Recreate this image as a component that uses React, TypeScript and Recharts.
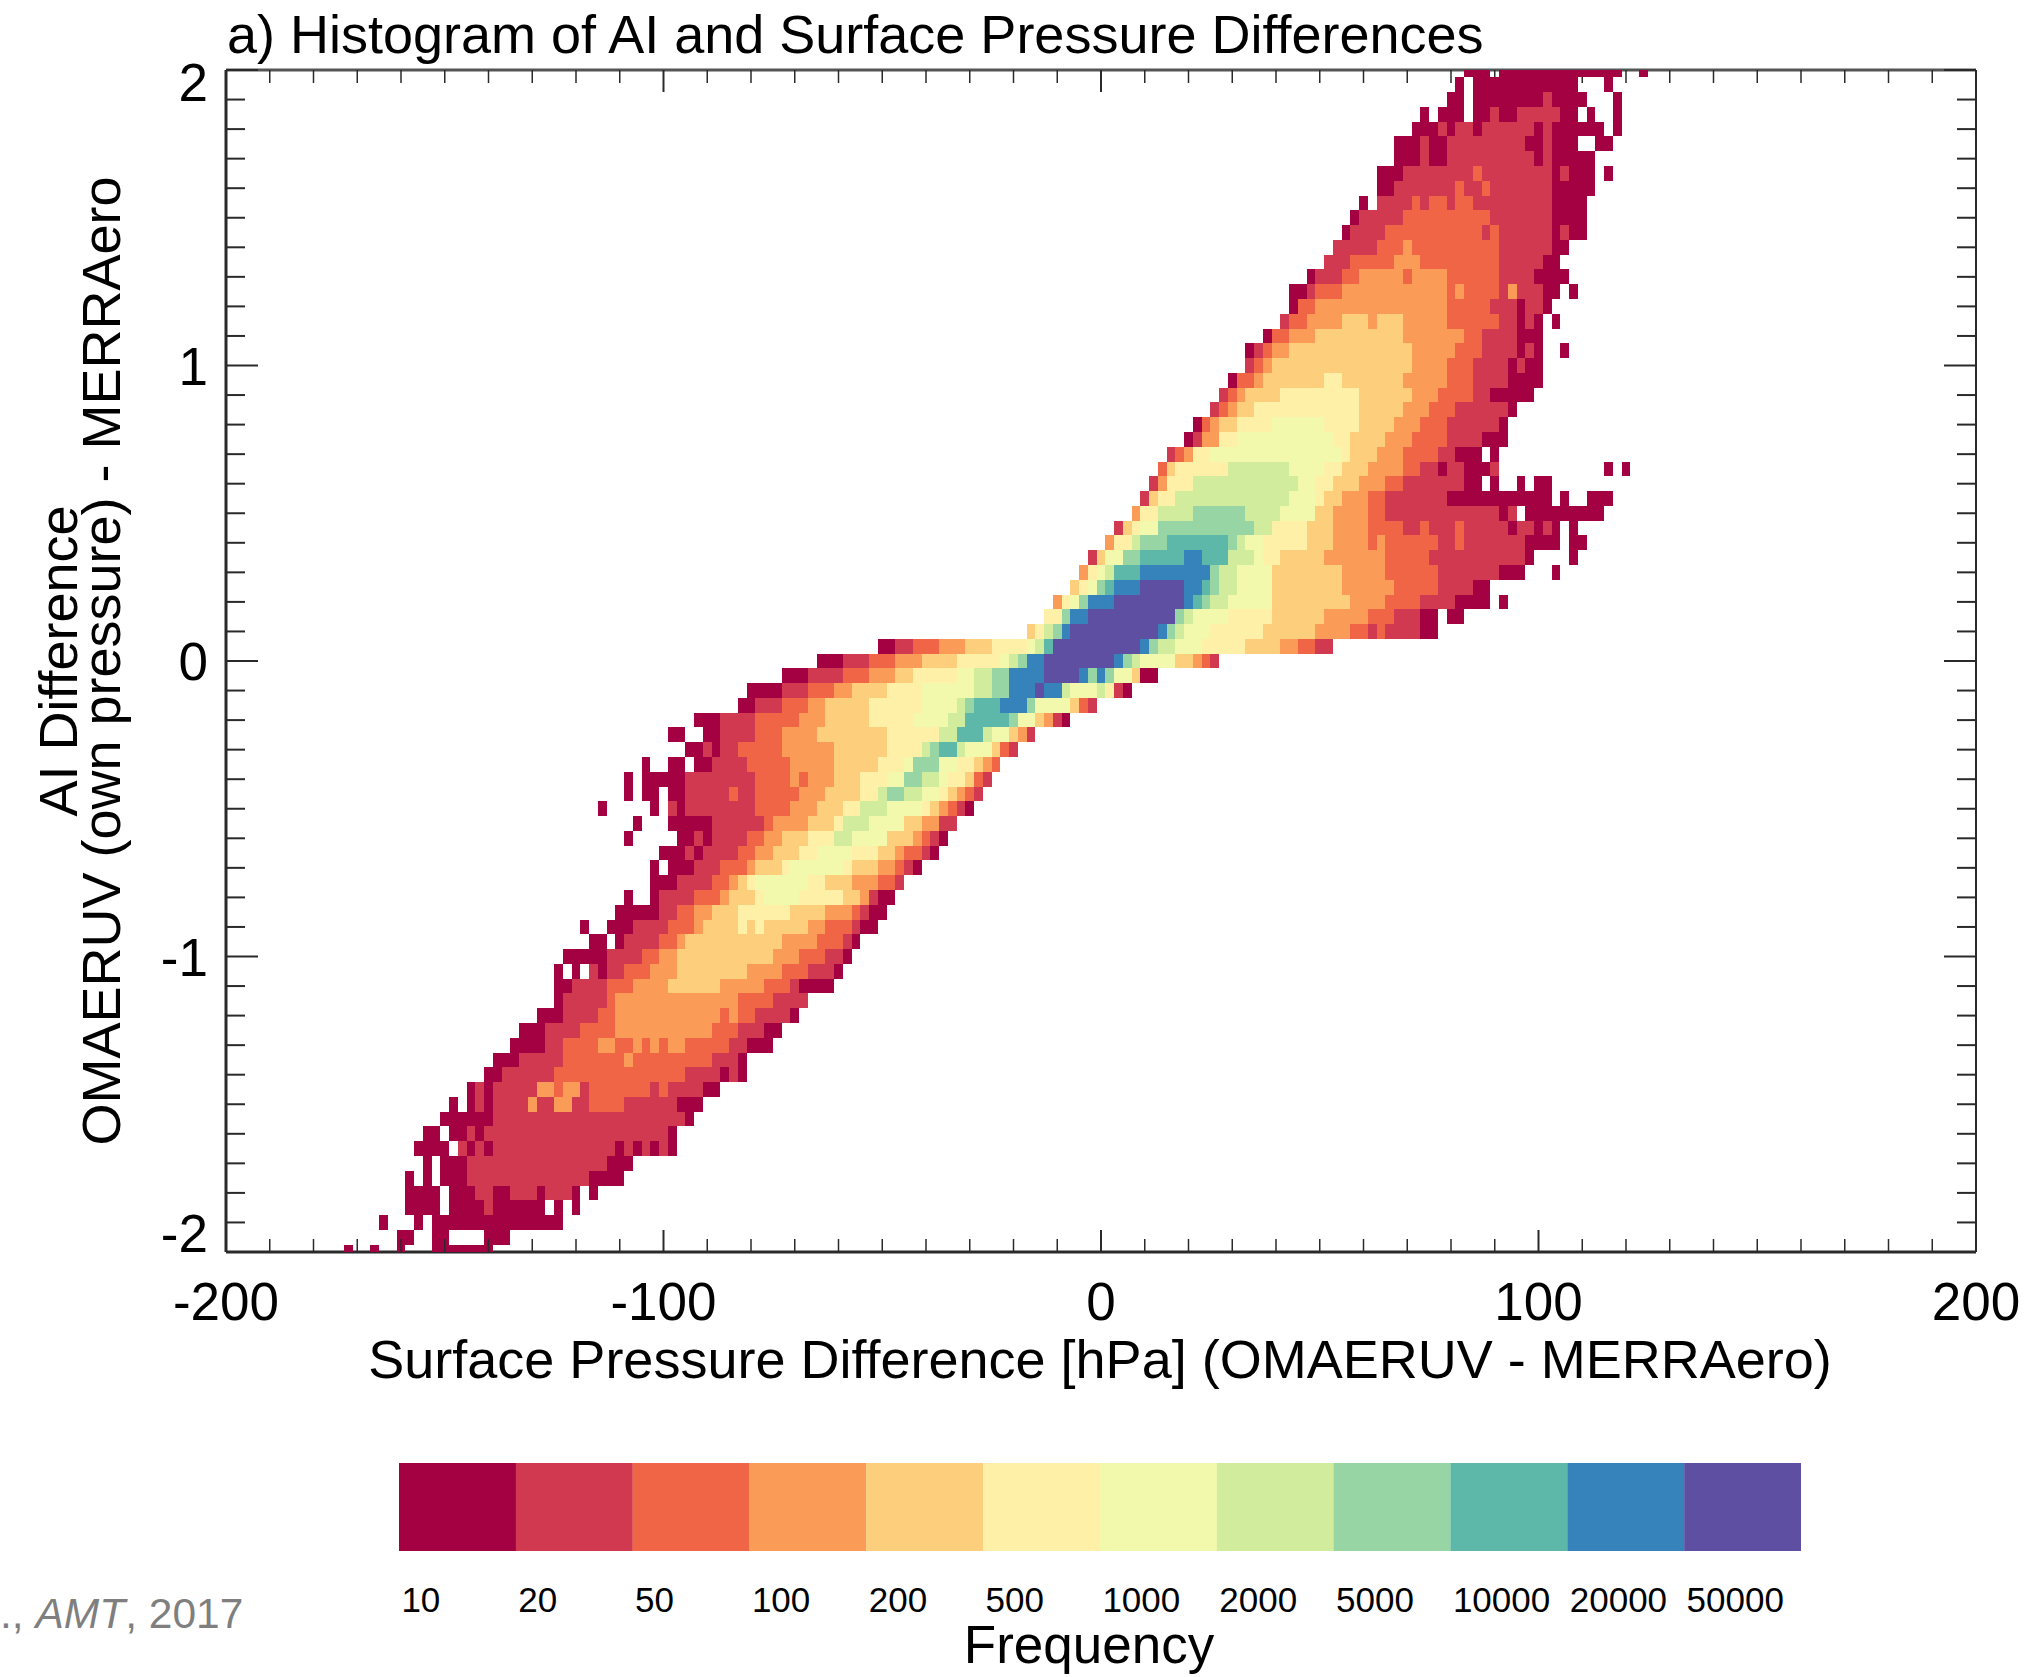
import React from "react";
import {
  Bar,
  BarChart,
  Cell,
  Scatter,
  ScatterChart,
  XAxis,
  YAxis,
} from "recharts";

const levelLabels = ["10", "20", "50", "100", "200", "500", "1000", "2000", "5000", "10000", "20000", "50000"];
const levelColors = [
  "#A30142", "#D0394F", "#EF6545", "#FA9C58", "#FDCE7C", "#FEF0A6",
  "#F2F9AC", "#D1EC9C", "#98D5A4", "#5DB8A9", "#3682BA", "#5E4FA2",
];

// one string per AI bin, from +2.0 down to -2.0 in steps of 0.05
// each run is "firstColumn-lastColumn:level", column n is the pressure bin -200 + 2n hPa
const rowRuns = [
  "142-144:0 146-159:0 162:0",
  "141:0 143-154:0 158:0",
  "140-141:0 143-150:0 151:1 152-155:0 159:0",
  "137:0 139-141:0 143-144:0 145:1 146-147:0 148-152:1 153-154:0 156:0 159:0",
  "136-138:0 139:1 140:0 141-142:1 143:0 144-149:1 150:0 151:1 152-157:0 159:0",
  "134-136:0 137:1 138-139:0 140-148:1 149-150:0 151:1 152-154:0 157-158:0",
  "134-136:0 137:1 138-139:0 140-149:1 150:0 151:1 152-156:0",
  "132-134:0 135-142:1 143:2 144-151:1 152:0 153:1 154-156:0 158:0",
  "132-133:0 134-140:1 141:2 142-143:1 144:2 145-151:1 152-156:0",
  "130:0 132-135:1 136:2 137:1 138-139:2 140:1 141-142:2 143-151:1 152-155:0",
  "129:0 130-134:1 135-144:2 145-151:1 152-155:0",
  "128:0 129-132:1 133-143:2 144:1 145:2 146-151:1 152:0 153:1 154-155:0",
  "127-131:1 132-134:2 135:3 136-145:2 146-151:1 152-153:0",
  "126-128:1 129-133:2 134-136:3 137-145:2 146-150:1 151-152:0",
  "124:0 125-127:1 128-129:2 130-134:3 135:2 136-139:3 140-145:2 146-149:1 150-153:0",
  "122-123:0 124:1 125-127:2 128-139:3 140:2 141:3 142-145:2 146:1 147:3 148-150:1 151-152:0 154:0",
  "122:0 123-124:2 125-139:3 140-144:2 145-147:1 148:0 149-150:1 151:0",
  "121:1 122-123:2 124-127:3 128-130:4 131:3 132-134:4 135-139:3 140-145:2 146-147:1 148:0 149:1 150:0 152:0",
  "119:0 120-121:2 122-124:3 125-134:4 135-141:3 142-143:2 144-147:1 148-150:0",
  "117:0 118:1 119:2 120-121:3 122-135:4 136-140:3 141-143:2 144-147:1 148:0 149:1 150:0 153:0",
  "117:1 118:2 119:3 120-135:4 136-139:3 140-142:2 143-146:1 147:0 148:1 149-150:0",
  "115:0 116-117:2 118:3 119-125:4 126-127:5 128-134:4 135-139:3 140-142:2 143-146:1 147-150:0",
  "114:1 115:2 116:3 117-120:4 121-129:5 130-135:4 136-138:3 139-142:2 143-144:1 145-149:0",
  "113:1 114:2 115:3 116-117:4 118-129:5 130-134:4 135-137:3 138-140:2 141-146:1 147:0",
  "111:0 112:2 113:3 114-115:4 116-119:5 120-125:6 126-129:5 130-133:4 134-136:3 137-139:2 140-145:1 146:0",
  "110:0 111:1 112-113:3 114-115:5 116-126:6 127-128:5 129-132:4 133-135:3 136-139:2 140-143:1 144-146:0",
  "108:1 109:2 110:3 111-112:5 113-127:6 128:5 129-131:4 132-134:3 135-138:2 139-140:1 141-143:0 145:0",
  "107:2 108:4 109-114:5 115-121:7 122-125:6 126-127:5 128-130:4 131-134:3 135-136:2 137-138:1 139:0 140-141:1 142-144:0 145:1 158:0 160:0",
  "106:1 107:3 108-110:5 111-122:7 123-124:6 125-126:5 127-129:4 130-132:3 133-134:2 135-141:1 142-143:0 145:0 148:0 150-151:0",
  "105:1 106:4 107-108:5 109-121:7 122-124:6 125:5 126-127:4 128-130:3 131-132:2 133-139:1 140-151:0 153:0 156-158:0",
  "104:3 105-106:5 107-110:7 111-116:8 117-120:7 121-124:6 125-126:4 127-130:3 131-132:2 133-145:1 146:0 147:1 149-157:0",
  "102:1 103:4 104:5 105-106:6 107-117:8 118-119:7 120-123:5 124-126:4 127-130:3 131-134:2 135-136:1 137:2 138-140:1 141:2 142-146:1 147:0 148-149:1 150:0 151:1 152:0 154:0",
  "101:3 102-103:5 104:7 105-107:8 108-114:9 115:8 116:7 117-118:6 119-123:5 124-126:4 127-130:3 131:2 132:3 133-138:2 139-140:1 141:2 142-148:1 149-152:0 154-155:0",
  "99:1 100:4 101-102:6 103-104:8 105-109:9 110-111:10 112-114:9 115-117:7 118:6 119-120:5 121-125:4 126-132:3 133-137:2 138-148:1 149:0 154:0",
  "98:3 99:5 100:6 101:7 102-104:9 105-112:10 113:8 114-115:7 116-119:6 120-127:4 128-132:3 133-138:2 139-145:1 146-148:0 152:0",
  "97:4 98:5 99:6 100:8 101:9 102-104:10 105-109:11 110-111:10 112:9 113:8 114-115:7 116-119:6 120-127:4 128-133:3 134-138:2 139-142:1 143-144:0",
  "95:3 96:5 97:6 98:8 99-101:10 102-109:11 110:10 111:9 112:8 113-114:7 115-119:6 120-128:4 129-132:3 133-136:2 137-140:1 141-144:0 146:0",
  "94-95:5 96:8 97-98:10 99-108:11 109:8 110:7 111-114:6 115-119:5 120-125:4 126-130:3 131-133:2 134-136:1 137-138:0 140-141:0",
  "92:4 93:5 94:7 95:8 96:10 97-106:11 107:10 108:8 109:7 110-112:6 113-118:5 119-124:4 125-128:3 129-130:2 131:1 132:2 133-136:1 137-138:0",
  "75-76:0 77-78:1 79-81:2 82-84:3 85-87:4 88-91:5 92:6 93:7 94:9 95-104:11 105:10 106:8 107-108:7 109-111:6 112-116:5 117-120:4 121-122:3 123-124:2 125-126:1",
  "68-70:0 71-73:1 74-76:2 77-79:3 80-83:4 84-88:5 89:6 90:7 91:8 92-93:10 94-101:11 102:10 103:8 104:7 105-108:6 109-110:4 111:3 112:2 113:1",
  "64-66:0 67-70:1 71-73:2 74-76:3 77-78:4 79-83:5 84-85:6 86-87:7 88-89:8 90-93:10 94-97:11 98:10 99:8 100:10 101:8 102-103:6 104:4 105-106:0",
  "60-63:0 64-66:1 67-69:2 70-71:3 72-75:4 76-79:5 80-85:6 86-87:7 88-89:8 90-92:10 93:11 94-95:10 96:7 97-99:6 100:7 101:5 102:1 103:0",
  "59-60:0 61-63:1 64-66:2 67-68:3 69-73:4 74-79:5 80-83:6 84:7 85:8 86-88:9 89-91:10 92:8 93-96:6 97:4 98:2 99:1",
  "54-56:0 57-60:1 61-65:2 66-68:3 69-73:4 74-78:5 79-82:6 83-84:7 85-89:9 90:8 91-92:6 93:4 94:3 95:1 96:0",
  "51-52:0 55-56:0 57-60:1 61-63:2 64-67:3 68-75:4 76-81:5 82-83:7 84-86:9 87:7 88-89:6 90:4 91:3 92:1",
  "53-54:0 55:1 56:0 57-58:1 59-63:2 64-69:3 70-75:4 76-79:5 80:7 81:8 82-83:9 84:7 85-87:6 88:4 89:2 90:1",
  "48:0 51-52:0 54-55:0 56-59:1 60-64:2 65-69:3 70-74:4 75-77:5 78:6 79-81:8 82-83:6 84-85:5 86:4 87:3 88:2",
  "46:0 48-52:0 53-60:1 61-64:2 65:3 66:2 67-69:3 70-72:4 73-75:5 76-77:6 78-79:8 80-81:7 82:6 83-84:5 85:4 86:2 87:1",
  "46:0 48-49:0 51-52:0 53-57:1 58:2 59-60:1 61-65:2 66-68:3 69-72:4 73-74:5 75:7 76-77:8 78-79:7 80-81:6 82:5 83:4 84:3 85:2 86:1",
  "43:0 49:0 51:1 52:0 53-60:1 61-64:2 65-67:3 68-70:4 71-72:5 73-75:7 76-79:6 80:5 81:4 82:3 83:2 84:1 85:0",
  "47:0 51-55:0 56-61:1 62:2 63-66:3 67-69:4 70:5 71-73:7 74-77:6 78-79:4 80-81:3 82-83:1",
  "46:0 52-53:0 54:1 55:0 56-59:1 60-61:2 62-63:3 64-66:4 67-69:5 70-71:7 72-75:6 76-78:4 79:3 80:2 81:1 82:0",
  "50-52:0 53:1 54:0 55-58:1 59-60:2 61-62:3 63-65:4 66-67:5 68-71:6 72-74:5 75-76:4 77:3 78-79:2 80:1 81:0",
  "49:0 51-53:0 54-56:1 57-59:2 60:3 61-63:4 64:5 65-70:6 71:5 72-74:4 75-76:3 77:2 78:1 79:0",
  "49-51:0 52-55:1 56-57:2 58:3 59:4 60:5 61-66:6 67-68:5 69-71:4 72-74:3 75-76:2 77:1",
  "46:0 49:0 50-53:1 54-56:2 57:3 58-60:4 61:5 62-65:6 66-70:5 71-72:4 73:3 74:1 75-76:0",
  "45-49:0 50-51:1 52-53:2 54-55:3 56-58:4 59-64:5 65-68:4 69-71:3 72:2 73:1 74-75:0",
  "41:0 44-46:0 47-50:1 51-53:2 54:3 55-58:4 59:5 60:4 61:5 62-66:4 67-68:3 69-71:2 72:1 73-74:0",
  "42-43:0 45:0 46-49:1 50-51:2 52:3 53-63:4 64-67:3 68-70:2 71:1 72:0",
  "39-43:0 44-47:1 48-49:2 50-51:3 52-62:4 63-65:3 66-68:2 69-70:1 71:0",
  "38:0 40:0 42:1 43:0 44-45:1 46-48:2 49-51:3 52-59:4 60-63:3 64-66:2 67-69:1 70:0",
  "38-39:0 40-43:1 44-46:2 47-50:3 51-56:4 57-61:3 62-64:2 65:1 66-69:0",
  "38:0 39-43:1 44:2 45-58:3 59-62:2 63-66:1",
  "36-38:0 39-42:1 43-44:2 45-56:3 57:2 58:3 59-60:2 61-64:1 65:0",
  "34-36:0 37-40:1 41-44:2 45-55:3 56-58:2 59-61:1 62-63:0",
  "33-36:0 37-38:1 39-42:2 43-44:3 45-46:2 47:3 48:2 49:3 50:2 51-52:3 53-57:2 58-59:1 60-62:0",
  "31-33:0 34-38:1 39-45:2 46:3 47-55:2 56-58:1 59:0",
  "30-31:0 32-37:1 38-52:2 53-56:1 57:0 58:1 59:0",
  "28:0 29:1 30:0 31-35:1 36-37:3 38:2 39-40:3 41:1 42-48:2 49:1 50:2 51-54:1 55-56:0",
  "26:0 28:0 29:1 30:0 31-34:1 35:3 36-37:1 38-39:3 40-41:1 42-45:2 46-51:1 52-54:0",
  "25-30:0 31-52:1 53:0",
  "23-24:0 26-27:0 28:1 29:0 30-50:1 51:0",
  "22-25:0 27:1 28:0 29:1 30:0 31-44:1 45:0 46:1 47:0 48:1 49:0 50:1 51:0",
  "23:0 25-27:0 28-43:1 44-46:0",
  "21:0 23:0 25-27:0 28-41:1 42-45:0",
  "21-24:0 26-28:0 29-30:1 31-32:0 33-35:1 36:0 37-39:1 40:0 42:0",
  "21-24:0 26-29:0 30:1 31-36:0 38:0 40:0",
  "18:0 22:0 24-38:0",
  "20-21:0 24-25:0 30-32:0",
  "14:0 17:0 20:0 24-30:0",
];

const xTicks = Array.from({ length: 41 }, (_, i) => -200 + i * 10);
const yTicks = Array.from({ length: 41 }, (_, i) => (i - 20) / 10);
const topTickPoints = xTicks.map((pressure) => ({ pressure, ai: 2 }));

type HistCell = { pressure: number; ai: number };

// expand the runs into one list of bins per frequency level
const cellsByLevel: HistCell[][] = levelColors.map(() => []);
rowRuns.forEach((row, r) => {
  row.split(" ").forEach((run) => {
    const [cols, level] = run.split(":");
    const [first, last] = cols.split("-").map(Number);
    for (let c = first; c <= (last ?? first); c++) {
      cellsByLevel[Number(level)].push({ pressure: -200 + 2 * c, ai: 2 - 0.05 * r });
    }
  });
});

const FONT = "Liberation Sans";
const AXIS_COLOR = "#2a2a2a";
const CELL_W = 8.75;
const CELL_H = 14.78;

const HistCellShape = (props: any) => (
  <rect
    x={props.cx - CELL_W / 2}
    y={props.cy - CELL_H / 2}
    width={CELL_W}
    height={CELL_H}
    fill={props.fill}
    shapeRendering="crispEdges"
  />
);

// the top axis of this recharts version draws no custom ticks, so they go in as a series
const TopTickShape = (props: any) => {
  const major = props.payload.pressure % 100 === 0;
  return (
    <line
      x1={props.cx}
      x2={props.cx}
      y1={props.cy}
      y2={props.cy + (major ? 22 : 13)}
      stroke={AXIS_COLOR}
      strokeWidth={major ? 2 : 1.5}
    />
  );
};

const XTick = ({ x, y, payload }: any) => {
  const major = payload.value % 100 === 0;
  return (
    <g>
      <line x1={x} x2={x} y1={y} y2={y - (major ? 22 : 13)} stroke={AXIS_COLOR} strokeWidth={major ? 2 : 1.5} />
      {major && (
        <text x={x} y={y + 68} textAnchor="middle" fontFamily={FONT} fontSize={53} fill="#000">
          {payload.value}
        </text>
      )}
    </g>
  );
};

const YTick = ({ x, y, payload, side }: any) => {
  const major = Number.isInteger(payload.value);
  const len = major ? 32 : 19;
  const sign = side === "left" ? 1 : -1;
  // the end labels are pushed inside the frame in the original
  const shift = payload.value === 2 ? 12 : payload.value === -2 ? -19 : 0;
  return (
    <g>
      <line x1={x} x2={x + sign * len} y1={y} y2={y} stroke={AXIS_COLOR} strokeWidth={2} />
      {side === "left" && major && (
        <text x={x - 18} y={y + 19 + shift} textAnchor="end" fontFamily={FONT} fontSize={53} fill="#000">
          {payload.value}
        </text>
      )}
    </g>
  );
};

const BarTick = ({ x, y, payload }: any) => (
  <text x={x - 56} y={y + 61} textAnchor="start" fontFamily={FONT} fontSize={35} fill="#000">
    {payload.value}
  </text>
);

const colorbarData = levelLabels.map((label) => ({ label, span: 1 }));

const App = () => {
  return (
    <div style={{ position: "absolute", left: 0, top: 0, width: 2025, height: 1677, background: "#fff", overflow: "hidden" }}>
      <ScatterChart width={2025} height={1677} margin={{ top: 69, right: 48, bottom: 424, left: 225 }}>
        <XAxis
          type="number"
          dataKey="pressure"
          domain={[-200, 200]}
          ticks={xTicks}
          interval={0}
          height={1}
          tickSize={0}
          tickMargin={0}
          tickLine={false}
          allowDataOverflow
          axisLine={{ stroke: AXIS_COLOR, strokeWidth: 3 }}
          tick={XTick}
        />
        <XAxis
          xAxisId="top"
          orientation="top"
          type="number"
          domain={[-200, 200]}
          height={1}
          tick={false}
          tickLine={false}
          allowDataOverflow
          axisLine={{ stroke: "#555", strokeWidth: 3 }}
        />
        <YAxis
          type="number"
          dataKey="ai"
          domain={[-2, 2]}
          ticks={yTicks}
          interval={0}
          width={1}
          tickSize={0}
          tickMargin={0}
          tickLine={false}
          allowDataOverflow
          axisLine={{ stroke: AXIS_COLOR, strokeWidth: 3 }}
          tick={(p: any) => <YTick {...p} side="left" />}
        />
        <YAxis
          yAxisId="right"
          orientation="right"
          type="number"
          domain={[-2, 2]}
          ticks={yTicks}
          interval={0}
          width={1}
          tickSize={0}
          tickMargin={0}
          tickLine={false}
          allowDataOverflow
          axisLine={{ stroke: AXIS_COLOR, strokeWidth: 2 }}
          tick={(p: any) => <YTick {...p} side="right" />}
        />
        <Scatter data={topTickPoints} shape={TopTickShape} isAnimationActive={false} />
        {cellsByLevel.map((cells, level) => (
          <Scatter
            key={levelLabels[level]}
            data={cells}
            fill={levelColors[level]}
            shape={HistCellShape}
            isAnimationActive={false}
          />
        ))}
        <text x={227} y={53} fontFamily={FONT} fontSize={54} fill="#000">
          a) Histogram of AI and Surface Pressure Differences
        </text>
        <text x={1100} y={1378} textAnchor="middle" fontFamily={FONT} fontSize={54} fill="#000">
          Surface Pressure Difference [hPa] (OMAERUV - MERRAero)
        </text>
        <text transform="translate(77 661) rotate(-90)" textAnchor="middle" fontFamily={FONT} fontSize={54} fill="#000">
          AI Difference
        </text>
        <text transform="translate(120 661) rotate(-90)" textAnchor="middle" fontFamily={FONT} fontSize={54} fill="#000">
          OMAERUV (own pressure) - MERRAero
        </text>
        <text x={0} y={1628} fontFamily={FONT} fontSize={42.5} fill="#7f7f7f">
          .,{" "}
          <tspan fontStyle="italic">AMT</tspan>, 2017
        </text>
        <text x={1089} y={1663} textAnchor="middle" fontFamily={FONT} fontSize={53} fill="#000">
          Frequency
        </text>
      </ScatterChart>
      <div style={{ position: "absolute", left: 399, top: 1463 }}>
        <BarChart
          width={1402}
          height={155}
          data={colorbarData}
          barCategoryGap={0}
          margin={{ top: 0, right: 0, bottom: 0, left: 0 }}
        >
          <XAxis
            dataKey="label"
            interval={0}
            height={67}
            tickSize={0}
            tickMargin={0}
            tickLine={false}
            axisLine={false}
            tick={BarTick}
          />
          <YAxis hide domain={[0, 1]} />
          <Bar dataKey="span" isAnimationActive={false}>
            {colorbarData.map((entry, i) => (
              <Cell key={entry.label} fill={levelColors[i]} />
            ))}
          </Bar>
        </BarChart>
      </div>
    </div>
  );
};

export default App;
